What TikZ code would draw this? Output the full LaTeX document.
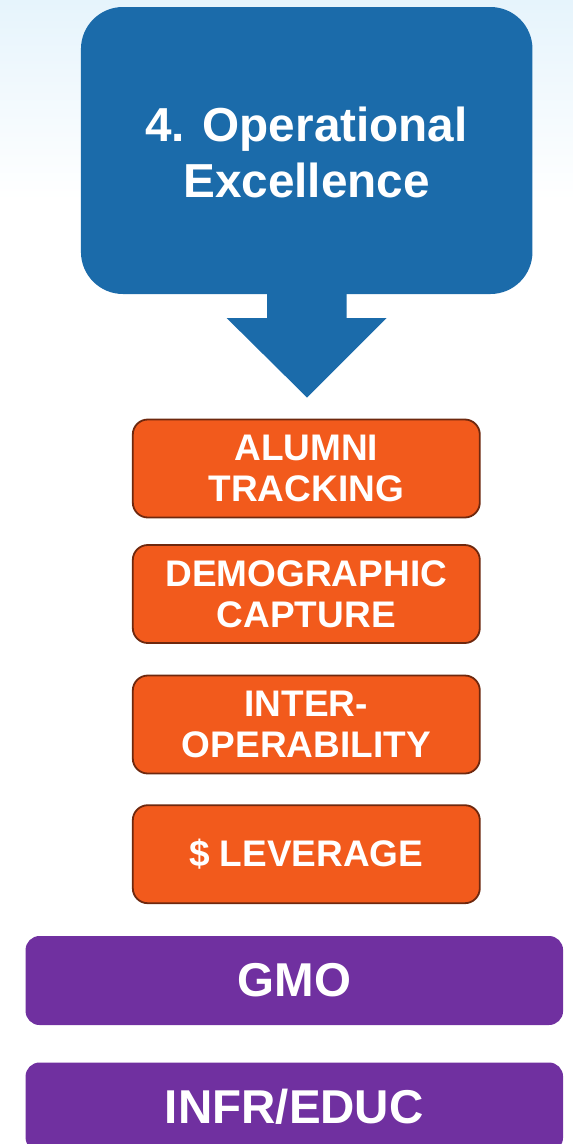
\documentclass[tikz,border=0pt]{standalone}
\usepackage{fontspec}
\setmainfont{Liberation Sans}
\definecolor{bgblue}{RGB}{230,244,252}
\definecolor{callblue}{RGB}{27,107,170}
\definecolor{orfill}{RGB}{242,90,28}
\definecolor{ordraw}{RGB}{110,40,14}
\definecolor{purp}{RGB}{112,48,160}
\tikzset{
  callout/.style={fill=callblue, draw=none, rounded corners=42pt, minimum width=451.5pt, minimum height=287pt, inner sep=0pt, text=white, align=center, font=\bfseries\fontsize{47.7}{56}\selectfont},
  calltext/.style={text=white, align=center, inner sep=0pt, font=\bfseries\fontsize{47.7}{56}\selectfont},
  orbox/.style={fill=orfill, draw=ordraw, line width=1.8pt, rounded corners=15pt, minimum width=347pt, minimum height=98pt, inner sep=0pt, text=white, align=center, font=\bfseries\fontsize{37}{41}\selectfont},
  purbox/.style={fill=purp, draw=none, rounded corners=14pt, minimum width=537.5pt, minimum height=89pt, inner sep=0pt, text=white, align=center, font=\bfseries\fontsize{47.5}{56}\selectfont},
}
\begin{document}
\begin{tikzpicture}[x=1pt,y=-1pt]
\useasboundingbox (0,0) rectangle (573,1144);
\clip (0,0) rectangle (573,1144);
\fill[white] (0,0) rectangle (573,1144);
\shade[top color=bgblue, bottom color=white] (0,0) rectangle (573,200);
% arrow
\fill[callblue] (267,285) -- (346.5,285) -- (346.5,318) -- (386.7,318) -- (307,397.5) -- (226.6,318) -- (267,318) -- cycle;
\node[callout] (oe) at (306.7,150.5) {};
\node[calltext] (oetext) at (306.5,152.5) {4. Operational\\Excellence};
\node[orbox] (alum) at (306.3,468.5) {ALUMNI\\TRACKING};
\node[orbox] (demo) at (306.3,594) {DEMOGRAPHIC\\CAPTURE};
\node[orbox] (inter) at (306.3,724.5) {INTER-\\OPERABILITY};
\node[orbox] (lev) at (306.3,854.2) {\$ LEVERAGE};
\node[purbox] (gmo) at (294.3,980.5) {GMO};
\node[purbox] (infr) at (294.3,1107) {INFR/EDUC};
\end{tikzpicture}
\end{document}
